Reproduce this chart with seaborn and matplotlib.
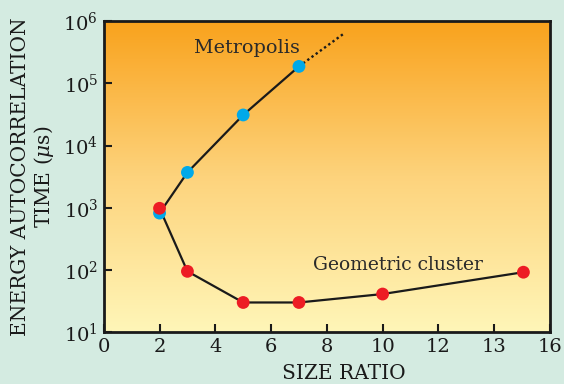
import numpy as np
import pandas as pd
import matplotlib
matplotlib.use("Agg")
import matplotlib.pyplot as plt
import seaborn as sns
from matplotlib.colors import LinearSegmentedColormap

# ---- data ----
metro_x = [2, 3, 5, 7]
metro_y = [820, 3700, 31000, 187000]
metro_ext_x = [7, 8.65]
metro_ext_y = [187000, 650000]
geo_x = [2, 3, 5, 7, 10, 15.05]
geo_y = [980, 95, 30, 30, 41, 92]
xtick_pos = [0, 2, 4, 6, 8, 10, 12, 14, 16]
xtick_labels = ["0", "2", "4", "6", "8", "10", "12", "13", "16"]
ytick_pos = [1e1, 1e2, 1e3, 1e4, 1e5, 1e6]
ytick_labels = ["$10^{1}$", "$10^{2}$", "$10^{3}$", "$10^{4}$", "$10^{5}$", "$10^{6}$"]

df_m = pd.DataFrame({"x": metro_x, "y": metro_y})
df_e = pd.DataFrame({"x": metro_ext_x, "y": metro_ext_y})
df_g = pd.DataFrame({"x": geo_x, "y": geo_y})

sns.set_style("ticks")
plt.rcParams["font.family"] = ["DejaVu Serif"]
plt.rcParams["mathtext.fontset"] = "dejavuserif"

bg = "#d4ebe1"
fig = plt.figure(figsize=(5.64, 3.84), dpi=100, facecolor=bg)
ax = fig.add_axes([0.184, 0.135, 0.791, 0.81])

# gradient background
cmap = LinearSegmentedColormap.from_list("g", ["#fff6b8", "#fdd37c", "#f9a21c"])
grad = np.linspace(0, 1, 256).reshape(-1, 1)
ax.imshow(grad, cmap=cmap, aspect="auto", extent=[0, 1, 0, 1],
          transform=ax.transAxes, origin="lower", zorder=0)

ax.set_yscale("log")
ax.set_xlim(0, 16)
ax.set_ylim(10, 1e6)

sns.lineplot(data=df_m, x="x", y="y", color="#1a1a1a", linewidth=1.6, ax=ax, zorder=2)
sns.lineplot(data=df_g, x="x", y="y", color="#1a1a1a", linewidth=1.6, ax=ax, zorder=2)
sns.lineplot(data=df_e, x="x", y="y", color="#1a1a1a", linewidth=1.7, linestyle=(0, (1, 1.2)), ax=ax, zorder=2)
sns.scatterplot(data=df_m, x="x", y="y", color="#00a9e9", s=85, edgecolor="none", ax=ax, zorder=3)
sns.scatterplot(data=df_g, x="x", y="y", color="#ed1c24", s=85, edgecolor="none", ax=ax, zorder=4)

ax.text(5.13, 3.7e5, "Metropolis", fontsize=13.8, color="#2a2a2a", ha="center", va="center")
ax.text(10.55, 1.19e2, "Geometric cluster", fontsize=13.5, color="#2a2a2a", ha="center", va="center")

ax.set_xticks(xtick_pos)
ax.set_xticklabels(xtick_labels)
ax.set_yticks(ytick_pos)
ax.set_yticklabels(ytick_labels)
ax.yaxis.set_minor_locator(matplotlib.ticker.NullLocator())
ax.tick_params(axis="both", direction="in", length=6, width=1.5, color="#1a1a1a",
               labelsize=14, labelcolor="#1a1a1a", pad=4)
for s in ax.spines.values():
    s.set_linewidth(2)
    s.set_color("#1a1a1a")
    s.set_zorder(5)

ax.set_xlabel("SIZE RATIO", fontsize=14.5, color="#1a1a1a", labelpad=6, x=0.537)
ax.set_ylabel("ENERGY AUTOCORRELATION\nTIME ($\\mu$s)", fontsize=14.5, color="#1a1a1a",
              linespacing=1.1, labelpad=5)

fig.savefig("out.png", dpi=100, facecolor=bg)
